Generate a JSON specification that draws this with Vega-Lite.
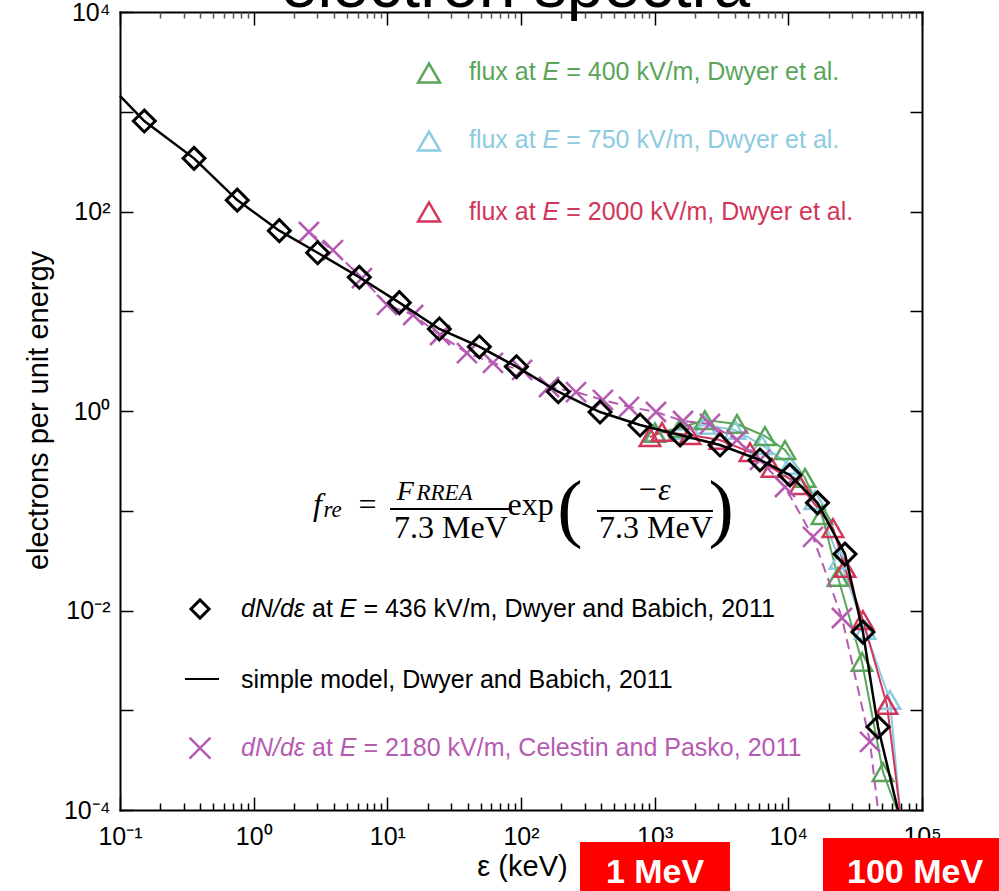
{
  "$schema": "https://vega.github.io/schema/vega-lite/v6.json",
  "width": 802,
  "height": 798,
  "autosize": {"type": "none"},
  "padding": {"left": 120, "top": 12, "right": 77, "bottom": 81},
  "background": "white",
  "config": {"view": {"stroke": null}},
  "datasets": {
    "diamonds": [
      {"x": 0.152, "y": 807}, {"x": 0.358, "y": 341}, {"x": 0.754, "y": 130}, {"x": 1.555, "y": 64.2},
      {"x": 3.01, "y": 38.6}, {"x": 6.17, "y": 21.9}, {"x": 12.3, "y": 12.2}, {"x": 24.5, "y": 6.64},
      {"x": 48.8, "y": 4.41}, {"x": 92.5, "y": 2.78}, {"x": 190, "y": 1.56}, {"x": 390, "y": 0.977},
      {"x": 777, "y": 0.724}, {"x": 1549, "y": 0.574}, {"x": 3083, "y": 0.456}, {"x": 6138, "y": 0.323},
      {"x": 10280, "y": 0.228}, {"x": 16520, "y": 0.12}, {"x": 26540, "y": 0.0368}, {"x": 36140, "y": 0.00608},
      {"x": 46880, "y": 0.000679}
    ],
    "model": [
      {"x": 0.1, "y": 1439}, {"x": 0.152, "y": 807}, {"x": 0.358, "y": 341}, {"x": 0.754, "y": 130}, {"x": 1.555, "y": 64.2},
      {"x": 3.01, "y": 38.6}, {"x": 6.17, "y": 21.9}, {"x": 12.3, "y": 12.2}, {"x": 24.5, "y": 6.64},
      {"x": 48.8, "y": 4.41}, {"x": 92.5, "y": 2.78}, {"x": 190, "y": 1.56}, {"x": 390, "y": 0.977},
      {"x": 777, "y": 0.724}, {"x": 1549, "y": 0.574}, {"x": 3083, "y": 0.456}, {"x": 6138, "y": 0.323},
      {"x": 10280, "y": 0.228}, {"x": 16520, "y": 0.12}, {"x": 26540, "y": 0.0368}, {"x": 36140, "y": 0.00608},
      {"x": 46880, "y": 0.000679}, {"x": 66070, "y": 0.0001}
    ],
    "celestin": [
      {"x": 2.59, "y": 62.3, "m": true}, {"x": 3.92, "y": 41.1, "m": true}, {"x": 6.46, "y": 21.5, "m": true},
      {"x": 9.94, "y": 11.6, "m": true}, {"x": 15.6, "y": 9.17, "m": true}, {"x": 24.8, "y": 5.78, "m": true},
      {"x": 39.4, "y": 3.81, "m": true}, {"x": 61.7, "y": 3.03, "m": true}, {"x": 102, "y": 2.58, "m": true},
      {"x": 162, "y": 1.74, "m": true}, {"x": 258, "y": 1.55, "m": true}, {"x": 410, "y": 1.29, "m": true},
      {"x": 643, "y": 1.1, "m": true}, {"x": 1023, "y": 0.977, "m": true}, {"x": 1629, "y": 0.794, "m": true},
      {"x": 2593, "y": 0.741, "m": true}, {"x": 4129, "y": 0.512, "m": true}, {"x": 6138, "y": 0.323, "m": true},
      {"x": 9440, "y": 0.173, "m": true}, {"x": 15290, "y": 0.0546, "m": true}, {"x": 25190, "y": 0.00841, "m": true},
      {"x": 40830, "y": 0.000481, "m": true}, {"x": 46880, "y": 0.0001, "m": false}
    ],
    "flux": [
      {"E": "750", "x": 1005, "y": 0.616, "m": true}, {"E": "750", "x": 1546, "y": 0.645, "m": true},
      {"E": "750", "x": 2378, "y": 0.724, "m": true}, {"E": "750", "x": 3990, "y": 0.645, "m": true},
      {"E": "750", "x": 6353, "y": 0.456, "m": true}, {"E": "750", "x": 10280, "y": 0.288, "m": true},
      {"E": "750", "x": 15820, "y": 0.128, "m": true}, {"E": "750", "x": 24340, "y": 0.0321, "m": true},
      {"E": "750", "x": 37440, "y": 0.00638, "m": true}, {"E": "750", "x": 57540, "y": 0.00127, "m": true},
      {"E": "750", "x": 68390, "y": 0.0001, "m": false},
      {"E": "400", "x": 1005, "y": 0.602, "m": true}, {"E": "400", "x": 1546, "y": 0.676, "m": true},
      {"E": "400", "x": 2378, "y": 0.812, "m": true}, {"E": "400", "x": 4129, "y": 0.741, "m": true},
      {"E": "400", "x": 6687, "y": 0.561, "m": true}, {"E": "400", "x": 9440, "y": 0.406, "m": true},
      {"E": "400", "x": 13330, "y": 0.213, "m": true}, {"E": "400", "x": 17860, "y": 0.0906, "m": true},
      {"E": "400", "x": 23510, "y": 0.0217, "m": true}, {"E": "400", "x": 35560, "y": 0.00305, "m": true},
      {"E": "400", "x": 51050, "y": 0.00024, "m": true}, {"E": "400", "x": 65010, "y": 0.0001, "m": false},
      {"E": "2000", "x": 923, "y": 0.548, "m": true}, {"E": "2000", "x": 1135, "y": 0.616, "m": true},
      {"E": "2000", "x": 1837, "y": 0.574, "m": true}, {"E": "2000", "x": 3081, "y": 0.512, "m": true},
      {"E": "2000", "x": 5165, "y": 0.388, "m": true}, {"E": "2000", "x": 7546, "y": 0.269, "m": true},
      {"E": "2000", "x": 12220, "y": 0.181, "m": true}, {"E": "2000", "x": 21580, "y": 0.0671, "m": true},
      {"E": "2000", "x": 26540, "y": 0.0267, "m": true}, {"E": "2000", "x": 36140, "y": 0.00803, "m": true},
      {"E": "2000", "x": 54700, "y": 0.00113, "m": true}, {"E": "2000", "x": 68390, "y": 0.0001, "m": false}
    ],
    "leg_hi": [
      {"sx": 20.5, "sy": 2446, "x": 40.8, "y": 2080, "E": "400", "tail": "= 400 kV/m, Dwyer et al."},
      {"sx": 20.5, "sy": 509, "x": 40.8, "y": 433, "E": "750", "tail": "= 750 kV/m, Dwyer et al."},
      {"sx": 20.5, "sy": 98.9, "x": 40.8, "y": 82.2, "E": "2000", "tail": "= 2000 kV/m, Dwyer et al."}
    ],
    "leg_lo": [
      {"sx": 0.3967, "sy": 0.01035, "x": 0.804, "y": 0.00861, "E": "436", "tail": "= 436 kV/m, Dwyer and Babich, 2011"},
      {"sx": 0.3967, "sy": 0.000418, "x": 0.804, "y": 0.0003476, "E": "2180", "tail": "= 2180 kV/m, Celestin and Pasko, 2011"}
    ]
  },
  "encoding": {
    "x": {"field": "x", "type": "quantitative", "scale": {"type": "log", "domain": [0.1, 100000], "nice": false}, "axis": null},
    "y": {"field": "y", "type": "quantitative", "scale": {"type": "log", "domain": [0.0001, 10000], "nice": false}, "axis": null}
  },
  "layer": [
    {
      "data": {"values": [{"x": 1, "y": 1}]},
      "mark": {"type": "point", "opacity": 0},
      "encoding": {
        "x": {"field": "x", "type": "quantitative", "scale": {"type": "log", "domain": [0.1, 100000], "nice": false},
          "axis": {"orient": "bottom", "values": [0.1, 1, 10, 100, 1000, 10000, 100000],
            "labelExpr": "['10⁻¹','10⁰','10¹','10²','10³','10⁴','10⁵'][round(log(datum.value)/LN10)+1]",
            "labelFont": "Liberation Sans", "labelFontSize": 25, "labelColor": "black", "labelPadding": 27,
            "labelOverlap": false, "labelFlush": false, "labelBaseline": "top",
            "tickSize": -13, "tickWidth": 1.5, "tickColor": "black",
            "domainColor": "black", "domainWidth": 2, "domainCap": "square", "grid": false,
            "title": "ε (keV)", "titleFont": "Liberation Sans", "titleFontSize": 29, "titleFontWeight": "normal",
            "titleColor": "black", "titleX": 402, "titleY": 65, "titleAlign": "center", "titleBaseline": "alphabetic"}},
        "y": {"field": "y", "type": "quantitative", "scale": {"type": "log", "domain": [0.0001, 10000], "nice": false},
          "axis": {"orient": "left", "values": [0.0001, 0.001, 0.01, 0.1, 1, 10, 100, 1000, 10000],
            "labelExpr": "['10⁻⁴','','10⁻²','','10⁰','','10²','','10⁴'][round(log(datum.value)/LN10)+4]",
            "labelFont": "Liberation Sans", "labelFontSize": 25, "labelColor": "black", "labelPadding": 23,
            "labelOverlap": false, "labelFlush": false,
            "tickSize": -13, "tickWidth": 1.5, "tickColor": "black",
            "domainColor": "black", "domainWidth": 2, "domainCap": "square", "grid": false,
            "title": "electrons per unit energy", "titleFont": "Liberation Sans", "titleFontSize": 29, "titleFontWeight": "normal",
            "titleColor": "black", "titleX": -82, "titleY": 398, "titleAlign": "center", "titleBaseline": "middle", "titleAngle": -90}}
      }
    },
    {
      "data": {"values": [{"x": 1, "y": 1}]},
      "mark": {"type": "point", "opacity": 0},
      "encoding": {
        "x": {"field": "x", "type": "quantitative", "scale": {"type": "log", "domain": [0.1, 100000], "nice": false},
          "axis": {"orient": "bottom", "values": [0.2,0.3,0.4,0.5,0.6,0.7,0.8,0.9,2,3,4,5,6,7,8,9,20,30,40,50,60,70,80,90,200,300,400,500,600,700,800,900,2000,3000,4000,5000,6000,7000,8000,9000,20000,30000,40000,50000,60000,70000,80000,90000],
            "labels": false, "domain": false, "grid": false, "tickSize": -7, "tickWidth": 1.5, "tickColor": "black", "title": null}},
        "y": {"field": "y", "type": "quantitative", "scale": {"type": "log", "domain": [0.0001, 10000], "nice": false},
          "axis": {"orient": "right", "values": [0.0001, 0.001, 0.01, 0.1, 1, 10, 100, 1000, 10000],
            "labels": false, "grid": false, "tickSize": -12, "tickWidth": 1.5, "tickColor": "black",
            "domainColor": "black", "domainWidth": 2, "domainCap": "square", "title": null}}
      }
    },
    {
      "data": {"values": [{"x": 1, "y": 1}]},
      "mark": {"type": "point", "opacity": 0},
      "encoding": {
        "x": {"field": "x", "type": "quantitative", "scale": {"type": "log", "domain": [0.1, 100000], "nice": false},
          "axis": {"orient": "top", "values": [0.1, 1, 10, 100, 1000, 10000, 100000],
            "labels": false, "grid": false, "tickSize": -13, "tickWidth": 1.5, "tickColor": "black",
            "domainColor": "black", "domainWidth": 2, "domainCap": "square",
            "title": "electron spectra", "titleFont": "Liberation Sans", "titleFontSize": 66, "titleFontWeight": "normal",
            "titleColor": "black", "titleX": 395, "titleY": -6, "titleAlign": "center", "titleBaseline": "alphabetic"}}
      }
    },
    {
      "data": {"values": [{"x": 1, "y": 1}]},
      "mark": {"type": "point", "opacity": 0},
      "encoding": {
        "x": {"field": "x", "type": "quantitative", "scale": {"type": "log", "domain": [0.1, 100000], "nice": false},
          "axis": {"orient": "top", "values": [0.2,0.3,0.4,0.5,0.6,0.7,0.8,0.9,2,3,4,5,6,7,8,9,20,30,40,50,60,70,80,90,200,300,400,500,600,700,800,900,2000,3000,4000,5000,6000,7000,8000,9000,20000,30000,40000,50000,60000,70000,80000,90000],
            "labels": false, "domain": false, "grid": false, "tickSize": -6, "tickWidth": 1.5, "tickColor": "#555555", "title": null}}
      }
    },
    {
      "data": {"name": "flux"},
      "mark": {"type": "line", "strokeWidth": 2},
      "encoding": {"color": {"field": "E", "type": "nominal", "legend": null,
        "scale": {"domain": ["400", "750", "2000", "436", "2180"], "range": ["#5aa55a", "#8ccbe0", "#d2365a", "#000000", "#b55bb2"]}}}
    },
    {
      "data": {"name": "flux"},
      "transform": [{"filter": "datum.m"}],
      "mark": {"type": "point", "shape": "triangle-up", "filled": false, "size": 420, "strokeWidth": 2.5, "opacity": 1},
      "encoding": {"color": {"field": "E", "type": "nominal", "legend": null,
        "scale": {"domain": ["400", "750", "2000", "436", "2180"], "range": ["#5aa55a", "#8ccbe0", "#d2365a", "#000000", "#b55bb2"]}}}
    },
    {
      "data": {"name": "celestin"},
      "mark": {"type": "line", "strokeWidth": 2, "strokeDash": [10, 6], "color": "#b55bb2"}
    },
    {
      "data": {"name": "celestin"},
      "transform": [{"filter": "datum.m"}],
      "mark": {"type": "point", "shape": "M-1,-1L1,1M-1,1L1,-1", "filled": false, "size": 400, "strokeWidth": 2.5, "color": "#b55bb2", "opacity": 1}
    },
    {
      "data": {"name": "model"},
      "mark": {"type": "line", "strokeWidth": 2.5, "color": "black"}
    },
    {
      "data": {"name": "diamonds"},
      "mark": {"type": "point", "shape": "diamond", "filled": false, "size": 480, "strokeWidth": 3, "color": "black", "opacity": 1}
    },
    {
      "data": {"name": "leg_hi"},
      "mark": {"type": "point", "shape": "triangle-up", "filled": false, "size": 480, "strokeWidth": 2.5, "opacity": 1},
      "encoding": {
        "x": {"field": "sx", "type": "quantitative", "scale": {"type": "log", "domain": [0.1, 100000], "nice": false}, "axis": null},
        "y": {"field": "sy", "type": "quantitative", "scale": {"type": "log", "domain": [0.0001, 10000], "nice": false}, "axis": null},
        "color": {"field": "E", "type": "nominal", "legend": null,
          "scale": {"domain": ["400", "750", "2000", "436", "2180"], "range": ["#5aa55a", "#8ccbe0", "#d2365a", "#000000", "#b55bb2"]}}
      }
    },
    {
      "data": {"name": "leg_hi"},
      "mark": {"type": "text", "text": "flux at", "font": "Liberation Sans", "fontSize": 25, "align": "left", "baseline": "alphabetic"},
      "encoding": {"color": {"field": "E", "type": "nominal", "legend": null,
        "scale": {"domain": ["400", "750", "2000", "436", "2180"], "range": ["#5aa55a", "#8ccbe0", "#d2365a", "#000000", "#b55bb2"]}}}
    },
    {
      "data": {"name": "leg_hi"},
      "mark": {"type": "text", "text": "E", "font": "Liberation Sans", "fontStyle": "italic", "fontSize": 25, "align": "left", "baseline": "alphabetic", "dx": 73.6},
      "encoding": {"color": {"field": "E", "type": "nominal", "legend": null,
        "scale": {"domain": ["400", "750", "2000", "436", "2180"], "range": ["#5aa55a", "#8ccbe0", "#d2365a", "#000000", "#b55bb2"]}}}
    },
    {
      "data": {"name": "leg_hi"},
      "mark": {"type": "text", "font": "Liberation Sans", "fontSize": 25, "align": "left", "baseline": "alphabetic", "dx": 97.3},
      "encoding": {"text": {"field": "tail"}, "color": {"field": "E", "type": "nominal", "legend": null,
        "scale": {"domain": ["400", "750", "2000", "436", "2180"], "range": ["#5aa55a", "#8ccbe0", "#d2365a", "#000000", "#b55bb2"]}}}
    },
    {
      "data": {"name": "leg_lo"},
      "transform": [{"filter": "datum.E == '436'"}],
      "mark": {"type": "point", "shape": "diamond", "filled": false, "size": 330, "strokeWidth": 3, "color": "black", "opacity": 1},
      "encoding": {
        "x": {"field": "sx", "type": "quantitative", "scale": {"type": "log", "domain": [0.1, 100000], "nice": false}, "axis": null},
        "y": {"field": "sy", "type": "quantitative", "scale": {"type": "log", "domain": [0.0001, 10000], "nice": false}, "axis": null}
      }
    },
    {
      "data": {"name": "leg_lo"},
      "transform": [{"filter": "datum.E == '2180'"}],
      "mark": {"type": "point", "shape": "M-1,-1L1,1M-1,1L1,-1", "filled": false, "size": 440, "strokeWidth": 2.5, "color": "#b55bb2", "opacity": 1},
      "encoding": {
        "x": {"field": "sx", "type": "quantitative", "scale": {"type": "log", "domain": [0.1, 100000], "nice": false}, "axis": null},
        "y": {"field": "sy", "type": "quantitative", "scale": {"type": "log", "domain": [0.0001, 10000], "nice": false}, "axis": null}
      }
    },
    {
      "data": {"values": [{"x": 0.3064, "x2": 0.5503, "y": 0.002056}]},
      "mark": {"type": "rule", "strokeWidth": 2, "color": "black"},
      "encoding": {"x2": {"field": "x2"}}
    },
    {
      "data": {"name": "leg_lo"},
      "mark": {"type": "text", "text": "dN/dε", "font": "Liberation Sans", "fontStyle": "italic", "fontSize": 25, "align": "left", "baseline": "alphabetic"},
      "encoding": {"color": {"field": "E", "type": "nominal", "legend": null,
        "scale": {"domain": ["400", "750", "2000", "436", "2180"], "range": ["#5aa55a", "#8ccbe0", "#d2365a", "#000000", "#b55bb2"]}}}
    },
    {
      "data": {"name": "leg_lo"},
      "mark": {"type": "text", "text": "at", "font": "Liberation Sans", "fontSize": 25, "align": "left", "baseline": "alphabetic", "dx": 71},
      "encoding": {"color": {"field": "E", "type": "nominal", "legend": null,
        "scale": {"domain": ["400", "750", "2000", "436", "2180"], "range": ["#5aa55a", "#8ccbe0", "#d2365a", "#000000", "#b55bb2"]}}}
    },
    {
      "data": {"name": "leg_lo"},
      "mark": {"type": "text", "text": "E", "font": "Liberation Sans", "fontStyle": "italic", "fontSize": 25, "align": "left", "baseline": "alphabetic", "dx": 98.8},
      "encoding": {"color": {"field": "E", "type": "nominal", "legend": null,
        "scale": {"domain": ["400", "750", "2000", "436", "2180"], "range": ["#5aa55a", "#8ccbe0", "#d2365a", "#000000", "#b55bb2"]}}}
    },
    {
      "data": {"name": "leg_lo"},
      "mark": {"type": "text", "font": "Liberation Sans", "fontSize": 25, "align": "left", "baseline": "alphabetic", "dx": 122.4},
      "encoding": {"text": {"field": "tail"}, "color": {"field": "E", "type": "nominal", "legend": null,
        "scale": {"domain": ["400", "750", "2000", "436", "2180"], "range": ["#5aa55a", "#8ccbe0", "#d2365a", "#000000", "#b55bb2"]}}}
    },
    {
      "data": {"values": [{"x": 0.804, "y": 0.001671, "t": "simple model, Dwyer and Babich, 2011"}]},
      "mark": {"type": "text", "font": "Liberation Sans", "fontSize": 25, "align": "left", "baseline": "alphabetic", "color": "black"},
      "encoding": {"text": {"field": "t"}}
    },
    {
      "data": {"values": [{"x": 3.003, "y": 0.09066, "t": "f"}, {"x": 979.9, "y": 0.1281, "t": "−ε"}]},
      "mark": {"type": "text", "font": "Liberation Serif", "fontStyle": "italic", "fontSize": 32, "align": "center", "baseline": "alphabetic", "color": "black"},
      "encoding": {"text": {"field": "t"}}
    },
    {
      "data": {"values": [{"x": 13.6, "y": 0.1281, "t": "F"}]},
      "mark": {"type": "text", "font": "Liberation Serif", "fontStyle": "italic", "fontSize": 28, "align": "center", "baseline": "alphabetic", "color": "black"},
      "encoding": {"text": {"field": "t"}}
    },
    {
      "data": {"values": [{"x": 3.9, "y": 0.0866, "t": "re"}, {"x": 26.8, "y": 0.1281, "t": "RREA"}]},
      "mark": {"type": "text", "font": "Liberation Serif", "fontStyle": "italic", "fontSize": 23, "align": "center", "baseline": "alphabetic", "color": "black"},
      "encoding": {"text": {"field": "t"}}
    },
    {
      "data": {"values": [{"x": 7.106, "y": 0.09066, "t": "="}, {"x": 29.93, "y": 0.05329, "t": "7.3 MeV"}, {"x": 118, "y": 0.09066, "t": "exp"}, {"x": 1023, "y": 0.05329, "t": "7.3 MeV"}]},
      "mark": {"type": "text", "font": "Liberation Serif", "fontSize": 32, "align": "center", "baseline": "alphabetic", "color": "black"},
      "encoding": {"text": {"field": "t"}}
    },
    {
      "data": {"values": [{"x": 232, "y": 0.0602, "t": "("}, {"x": 3150, "y": 0.0602, "t": ")"}]},
      "mark": {"type": "text", "font": "Liberation Serif", "fontSize": 76, "align": "center", "baseline": "alphabetic", "color": "black"},
      "encoding": {"text": {"field": "t"}}
    },
    {
      "data": {"values": [{"x": 10.47, "x2": 85.6, "y": 0.1041}, {"x": 370, "x2": 2731, "y": 0.09943}]},
      "mark": {"type": "rule", "strokeWidth": 2, "color": "black"},
      "encoding": {"x2": {"field": "x2"}}
    },
    {
      "data": {"values": [{"x": 276.2, "x2": 3660, "y": 0.00004775, "y2": 0.00001}, {"x": 18160, "x2": 417800, "y": 0.0000524, "y2": 0.00001}]},
      "mark": {"type": "rect", "color": "#ff0000"},
      "encoding": {"x2": {"field": "x2"}, "y2": {"field": "y2"}}
    },
    {
      "data": {"values": [{"x": 1006, "y": 0.00001854, "t": "1 MeV"}, {"x": 88700, "y": 0.00001854, "t": "100 MeV"}]},
      "mark": {"type": "text", "font": "Liberation Sans", "fontWeight": "bold", "fontSize": 34, "align": "center", "baseline": "alphabetic", "color": "white"},
      "encoding": {"text": {"field": "t"}}
    }
  ],
  "resolve": {"axis": {"x": "independent", "y": "independent"}}
}
